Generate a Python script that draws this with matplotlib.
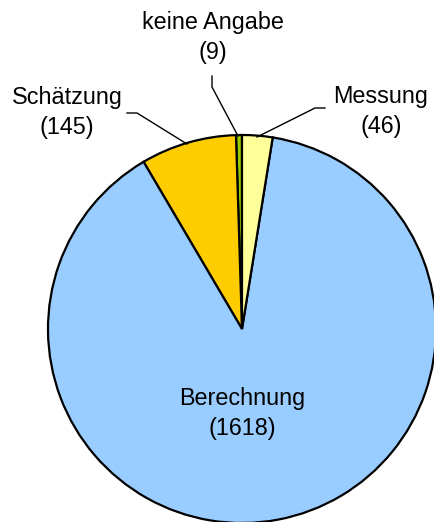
import matplotlib
matplotlib.use("Agg")
import matplotlib.pyplot as plt

labels = ["keine Angabe", "Schätzung", "Berechnung", "Messung"]
values = [9, 145, 1618, 46]
colors = ["#99CC00", "#FFCC00", "#99CCFF", "#FFFF99"]

W, H = 435, 522
fig = plt.figure(figsize=(W / 100, H / 100), dpi=100)
ax = fig.add_axes([0, 0, 1, 1])
cx, cy, r = 242, H - 329, 194
ax.pie(values, colors=colors, startangle=90, counterclock=True,
       center=(cx, cy), radius=r, frame=True,
       wedgeprops=dict(edgecolor="black", linewidth=1.6))
ax.set_xlim(0, W)
ax.set_ylim(0, H)
ax.set_aspect("equal")
ax.axis("off")

fs = 16.8
font = dict(fontsize=fs, family=["Liberation Sans", "DejaVu Sans"], ha="center", va="center")

# label positions in pixel coords (x, y top-down)
label_pos = {
    "keine Angabe": (213, 22),
    "Schätzung": (67, 97),
    "Messung": (381, 96),
    "Berechnung": (242, 398),
}
for lab, val in zip(labels, values):
    x, y = label_pos[lab]
    ax.text(x, H - y, lab, **font)
    ax.text(x, H - y - 30, f"({val})", **font)

leaders = [
    [(212, 76), (212, 87), (238, 136)],
    [(127, 113), (137, 113), (187, 144)],
    [(325, 108), (315, 108), (257, 137)],
]
for pts in leaders:
    xs = [p[0] for p in pts]
    ys = [H - p[1] for p in pts]
    ax.plot(xs, ys, color="black", linewidth=1)

fig.savefig("out.png", dpi=100)
